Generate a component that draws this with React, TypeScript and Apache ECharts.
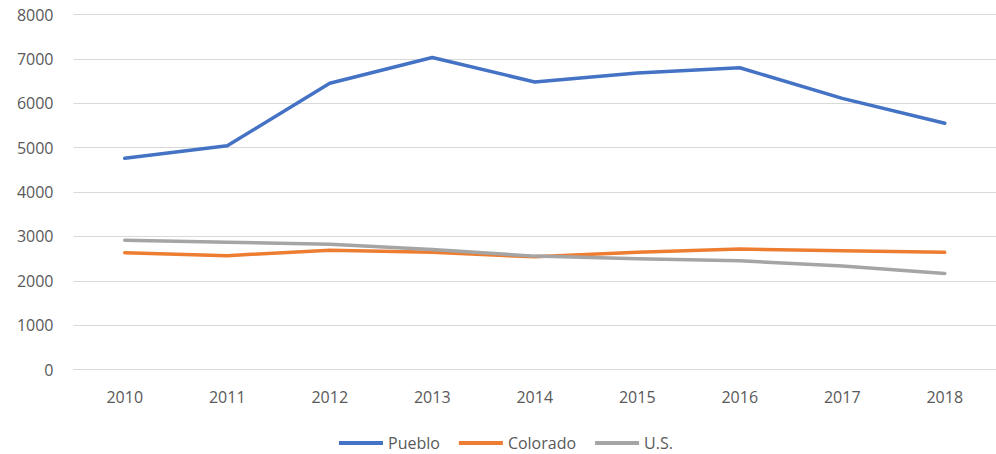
import React, { useEffect, useRef } from "react";
import * as echarts from "echarts";

const years = ["2010", "2011", "2012", "2013", "2014", "2015", "2016", "2017", "2018"];
const pueblo = [4760, 5040, 6450, 7030, 6480, 6680, 6800, 6110, 5550];
const colorado = [2630, 2565, 2690, 2640, 2540, 2640, 2715, 2675, 2640];
const us = [2915, 2870, 2820, 2705, 2555, 2495, 2450, 2330, 2165];
const yMin = 0;
const yMax = 8000;
const yStep = 1000;

const FONT = "'Open Sans', sans-serif";

export default function App() {
  const ref = useRef<HTMLDivElement>(null);
  useEffect(() => {
    if (!ref.current) return;
    const chart = echarts.init(ref.current, undefined, { renderer: "svg" });
    const mk = (name: string, data: number[], color: string) => ({
      name,
      type: "line",
      data,
      symbol: "none",
      lineStyle: { color, width: 3.5, cap: "round", join: "round" },
      itemStyle: { color },
    });
    chart.setOption({
      animation: false,
      backgroundColor: "#ffffff",
      textStyle: { fontFamily: FONT },
      grid: { left: 73.5, right: -5.5, top: 14.5, bottom: 84.5, containLabel: false },
      legend: {
        left: 334,
        top: 430,
        itemWidth: 44,
        itemHeight: 4,
        itemGap: 19,
        icon: "rect",
        textStyle: { color: "#595959", fontSize: 16, fontFamily: FONT },
        data: ["Pueblo", "Colorado", "U.S."],
      },
      xAxis: {
        type: "category",
        data: years,
        boundaryGap: true,
        axisLine: { show: true, lineStyle: { color: "#D9D9D9", width: 1 } },
        axisTick: { show: false },
        axisLabel: { color: "#595959", fontSize: 16, margin: 19, fontFamily: FONT },
      },
      yAxis: {
        type: "value",
        min: yMin,
        max: yMax,
        interval: yStep,
        axisLine: { show: false },
        axisTick: { show: false },
        splitLine: { lineStyle: { color: "#D9D9D9", width: 1 } },
        axisLabel: {
          color: "#595959",
          fontSize: 16,
          margin: 20,
          fontFamily: FONT,
          formatter: (v: number) => String(v),
        },
      },
      series: [
        mk("Pueblo", pueblo, "#4472C4"),
        mk("Colorado", colorado, "#ED7D31"),
        mk("U.S.", us, "#A5A5A5"),
      ],
    });
    return () => chart.dispose();
  }, []);
  return (
    <div
      ref={ref}
      style={{ position: "fixed", left: 0, top: 0, width: 996, height: 454, background: "#fff" }}
    />
  );
}
